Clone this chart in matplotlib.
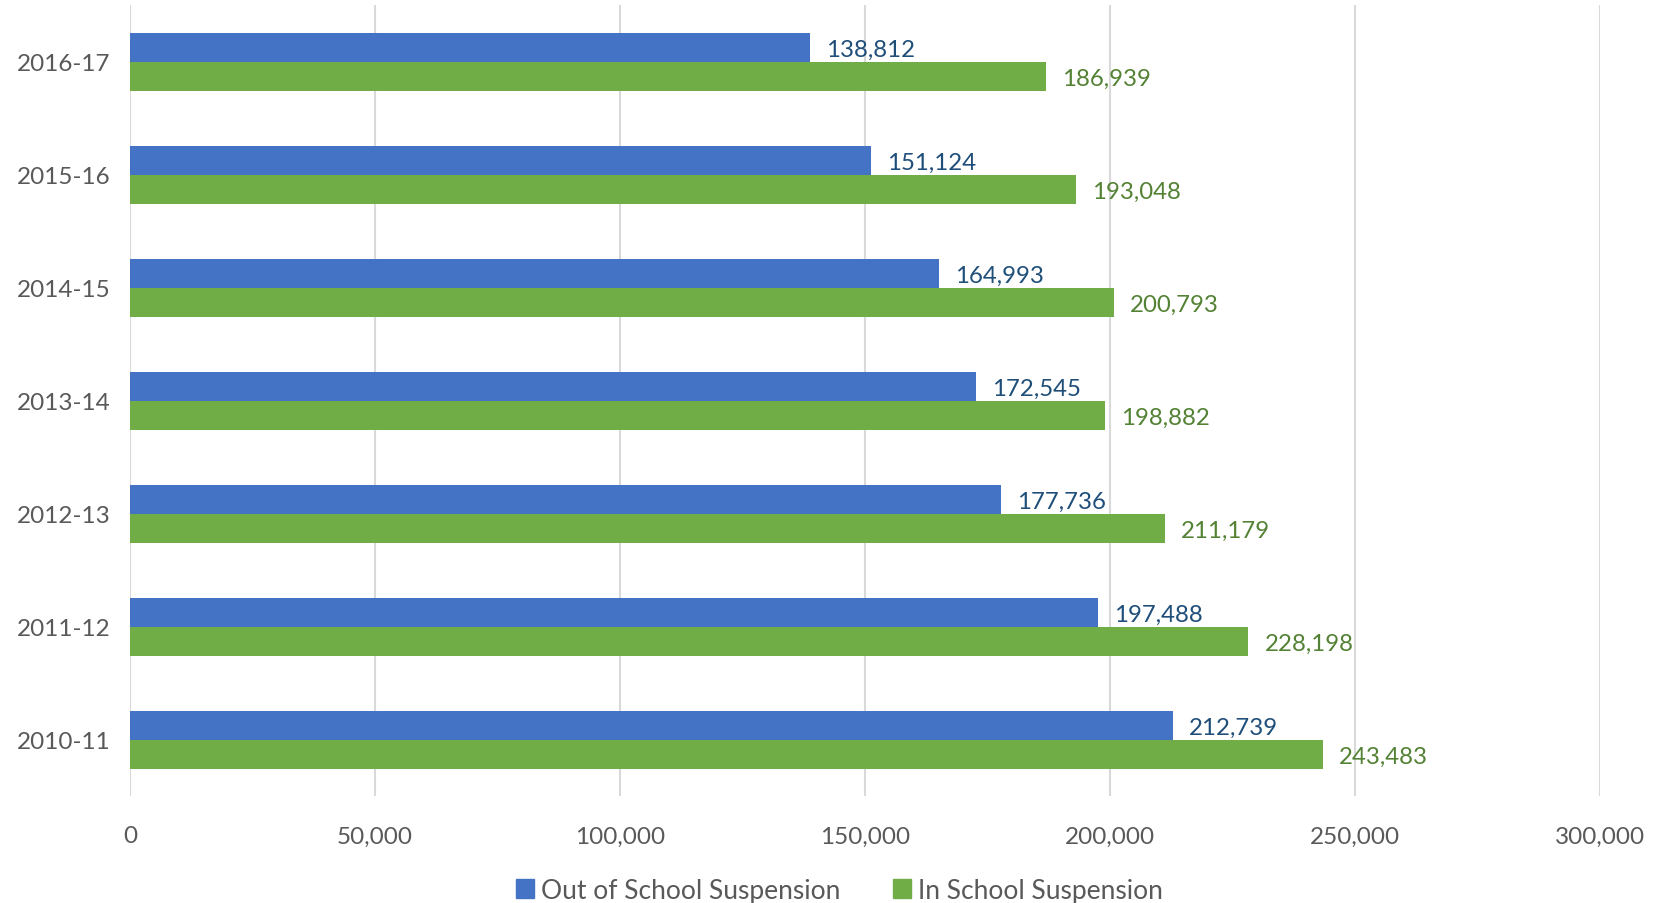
import matplotlib
matplotlib.use("Agg")
import matplotlib.pyplot as plt
from matplotlib.patches import Patch
from matplotlib.ticker import FuncFormatter, MultipleLocator

years = ["2010-11", "2011-12", "2012-13", "2013-14", "2014-15", "2015-16", "2016-17"]
out_of_school = [212739, 197488, 177736, 172545, 164993, 151124, 138812]
in_school = [243483, 228198, 211179, 198882, 200793, 193048, 186939]
series_names = ["Out of School Suspension", "In School Suspension"]

blue = "#4472C4"
green = "#70AD47"
blue_text = "#1F4E79"
green_text = "#548235"
grey_text = "#595959"

plt.rcParams["font.family"] = ["Lato", "DejaVu Sans"]

fig = plt.figure(figsize=(16.55, 9.04), dpi=100)
ax = fig.add_axes([0.0785, 0.118, 0.8885, 0.875])

pos = list(range(len(years)))
h = 0.257
off = h / 2
ax.barh([p + off for p in pos], out_of_school, height=h, color=blue, zorder=3)
ax.barh([p - off for p in pos], in_school, height=h, color=green, zorder=3)

for p, v in zip(pos, out_of_school):
    ax.annotate(f"{v:,}", (v, p + off), xytext=(16, -2), textcoords="offset pixels",
                va="center", ha="left", fontsize=17.3, color=blue_text)
for p, v in zip(pos, in_school):
    ax.annotate(f"{v:,}", (v, p - off), xytext=(16, -2), textcoords="offset pixels",
                va="center", ha="left", fontsize=17.3, color=green_text)

ax.set_xlim(0, 300000)
ax.set_ylim(-0.5, len(years) - 0.5)
ax.xaxis.set_major_locator(MultipleLocator(50000))
ax.xaxis.set_major_formatter(FuncFormatter(lambda x, _: f"{int(x):,}"))
ax.set_yticks(pos)
ax.set_yticklabels(years)
ax.tick_params(axis="both", length=0, labelsize=17.5, labelcolor=grey_text)
ax.tick_params(axis="x", pad=21)
ax.tick_params(axis="y", pad=14)
ax.grid(axis="x", color="#D9D9D9", linewidth=1.5, zorder=0)
for s in ax.spines.values():
    s.set_visible(False)

handles = [Patch(color=blue), Patch(color=green)]
fig.legend(handles, series_names, loc="center", bbox_to_anchor=(0.507, 0.014),
           ncol=2, frameon=False, fontsize=19, handlelength=0.7, handleheight=0.7,
           handletextpad=0.25, columnspacing=2.0, labelcolor=grey_text)

fig.savefig("out.png", dpi=100)
